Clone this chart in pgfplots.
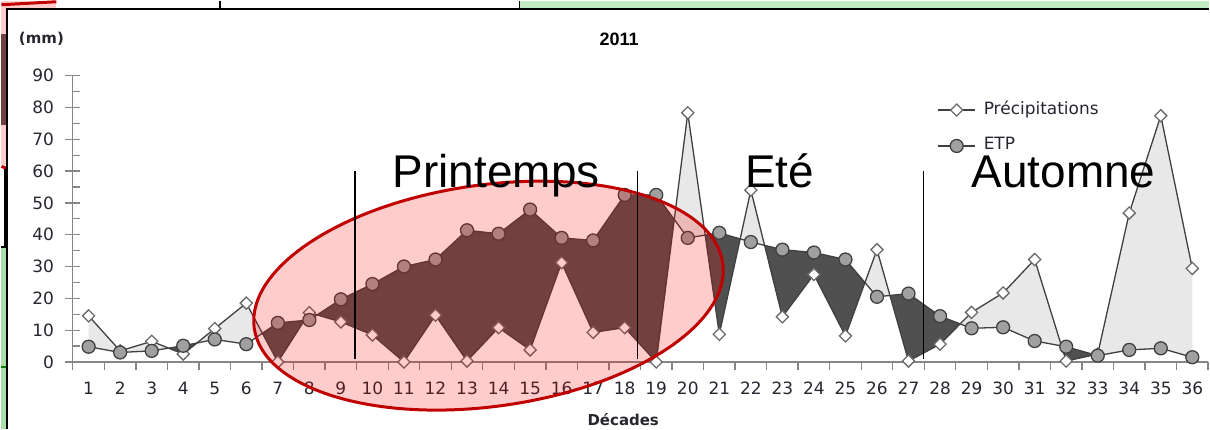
\documentclass[border=0pt]{standalone}
\usepackage{fontspec}
\setmainfont{DejaVu Sans}
\newfontfamily\arialfont{Liberation Sans}
\usepackage{pgfplots}
\pgfplotsset{compat=1.18}
\usepgfplotslibrary{fillbetween}

\definecolor{axisgray}{HTML}{868686}
\definecolor{lightfill}{HTML}{E8E8E8}
\definecolor{darkfill}{HTML}{505050}
\definecolor{circfill}{HTML}{A0A0A0}
\definecolor{linegray}{HTML}{404040}
\definecolor{diagray}{HTML}{6A6A6A}
\definecolor{ellred}{HTML}{C00000}
\definecolor{pinkbg}{HTML}{FFCCCC}
\definecolor{brownbg}{HTML}{734040}
\definecolor{greentop}{HTML}{C3EBC3}
\definecolor{greenleft}{HTML}{A9DFA9}
\definecolor{ticktext}{HTML}{262630}

% decade, precipitations (mm), ETP (mm)
\pgfplotstableread{
x  p     e
1  14.5  4.8
2  3.5   3.0
3  6.5   3.5
4  2.5   5.1
5  10.5  7.1
6  18.5  5.6
7  0.0   12.3
8  15.5  13.2
9  12.6  19.7
10 8.5   24.5
11 0.0   30.0
12 14.7  32.2
13 0.3   41.4
14 10.8  40.3
15 3.8   47.9
16 31.2  39.0
17 9.3   38.2
18 10.8  52.5
19 0.0   52.5
20 78.3  39.0
21 8.7   40.6
22 54.0  37.7
23 14.2  35.3
24 27.5  34.4
25 8.2   32.2
26 35.3  20.5
27 0.3   21.5
28 5.6   14.4
29 15.6  10.6
30 21.7  10.9
31 32.2  6.6
32 0.3   4.8
33 2.5   2.0
34 46.8  3.8
35 77.4  4.3
36 29.4  1.5
}\data

\begin{document}
\begin{tikzpicture}
% --- surroundings of the screenshot (outside the chart area) ---
\begin{scope}[x=1pt,y=-1pt]
\fill[greentop] (519,0) rectangle (1210,8);
\draw[black, line width=1.5pt] (519,0) -- (519,8);
\draw[black, line width=1.5pt] (219,0) -- (219,8);
\fill[pinkbg] (0,0) rectangle (55,8);
\fill[pinkbg] (0,0) rectangle (5,165);
\fill[brownbg] (0,33) rectangle (5,125);
\draw[ellred, line width=3pt] (0,4) -- (55,1);
\draw[ellred, line width=3pt] (0,166) -- (5,168);
\fill[greenleft] (0,247) rectangle (5,429);
\draw[black, line width=1.5pt] (3.5,169) -- (3.5,247) -- (0,247);
\draw[green!50!black, line width=2pt] (0,367) -- (5,367);
\draw[black, line width=2pt] (5.5,429) -- (5.5,8) -- (1210,8);
\path (0,0) (1210,429);
\end{scope}

\begin{axis}[
    at={(71.5pt,-362pt)}, anchor=south west,
    scale only axis, width=1137.6pt, height=287pt,
    xmin=0.5, xmax=36.5, ymin=0, ymax=90,
    axis lines*=left,
    axis line style={draw=axisgray, line width=1.3pt},
    xtick={1,...,36}, ytick={0,10,...,90},
    minor xtick={0.5,1.5,...,36.5},
    minor ytick={5,15,...,85},
    tick align=center,
    major tick length=15pt, minor tick length=8pt,
    tick style={draw=axisgray, line width=1.3pt},
    major x tick style={draw=none},
    minor x tick style={yshift=-4pt},
    minor y tick style={xshift=3pt},
    /pgf/number format/assume math mode=true,
    ticklabel style={font=\fontsize{17}{20}\selectfont, text=ticktext},
    xticklabel style={yshift=-9pt},
    yticklabel style={xshift=-8pt},
    clip=false,
    legend style={at={(0.7617,0.8170)}, anchor=west, draw=none, fill=none,
        inner sep=0pt, outer sep=0pt, row sep=20pt, column sep=8pt,
        font=\fontsize{17}{20}\selectfont, text=ticktext,
        nodes={inner sep=0pt, text height=12pt, text depth=4pt}},
    legend cell align=left,
    legend image code/.code={\draw[mark repeat=2, mark phase=2, #1]
        plot coordinates {(0pt,0pt) (18.5pt,0pt) (37pt,0pt)};},
]
\addplot[draw=none, name path=P, forget plot] table[x=x, y=p] {\data};
\addplot[draw=none, name path=E, forget plot] table[x=x, y=e] {\data};
\addplot[forget plot] fill between[of=P and E, split,
    every even segment/.style={fill=lightfill},
    every odd segment/.style={fill=darkfill}];

\addplot[draw=linegray, line width=1.3pt, mark=square*, mark size=4.3pt,
    mark options={rotate=45, fill=white, draw=diagray, line width=1.3pt}]
    table[x=x, y=p] {\data};
\addlegendentry{Précipitations}
\addplot[draw=linegray, line width=1.3pt, mark=*, mark size=6.5pt,
    mark options={fill=circfill, draw=linegray, line width=1.3pt}]
    table[x=x, y=e] {\data};
\addlegendentry{ETP}

\coordinate (v1a) at (axis cs:9.45,1);   \coordinate (v1b) at (axis cs:9.45,60);
\coordinate (v2a) at (axis cs:18.4,1);   \coordinate (v2b) at (axis cs:18.4,60);
\coordinate (v3a) at (axis cs:27.47,1);  \coordinate (v3b) at (axis cs:27.47,60);
\end{axis}

% --- annotations ---
\begin{scope}[x=1pt,y=-1pt]
\draw[ellred, line width=3pt, fill=red, fill opacity=0.2, draw opacity=1,
    rotate around={7.9:(488,295.5)}]
    (488,295.5) ellipse [x radius=237, y radius=111];
\draw[black, line width=1.5pt] (v1a) -- (v1b);
\draw[black, line width=1.5pt] (v2a) -- (v2b);
\draw[black, line width=1.5pt] (v3a) -- (v3b);
\node[anchor=base west, inner sep=0pt, font=\arialfont\fontsize{46}{50}\selectfont] at (392,187) {Printemps};
\node[anchor=base west, inner sep=0pt, font=\arialfont\fontsize{46}{50}\selectfont] at (745,187) {Eté};
\node[anchor=base west, inner sep=0pt, font=\arialfont\fontsize{46}{50}\selectfont] at (972,187) {Automne};
\node[font=\bfseries\fontsize{15}{18}\selectfont, text=ticktext] at (40,38) {(mm)};
\node[font=\arialfont\bfseries\fontsize{18}{21}\selectfont] at (619,38.5) {2011};
\node[font=\bfseries\fontsize{15}{18}\selectfont, text=ticktext] at (623,420) {Décades};
\end{scope}
\end{tikzpicture}
\end{document}
